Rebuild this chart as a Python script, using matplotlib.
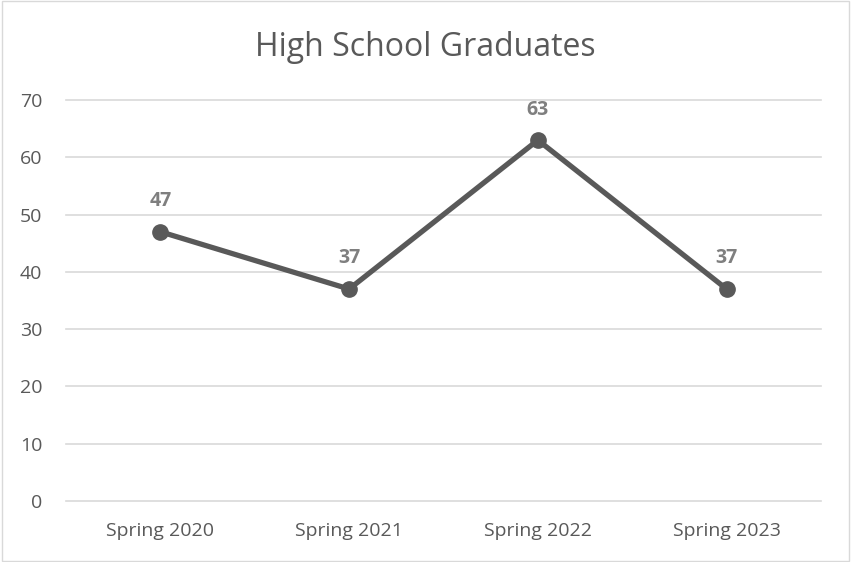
import matplotlib.pyplot as plt
from matplotlib.patches import Rectangle

categories = ["Spring 2020", "Spring 2021", "Spring 2022", "Spring 2023"]
graduates = [47, 37, 63, 37]
y_ticks = [0, 10, 20, 30, 40, 50, 60, 70]

plt.rcParams['font.family'] = ['Open Sans', 'DejaVu Sans']

fig = plt.figure(figsize=(8.51, 5.62), dpi=100)
ax = fig.add_axes([66 / 851, 1 - 501 / 562, 755 / 851, 401 / 562])

x = list(range(len(categories)))
ax.plot(x, graduates, color='#595959', linewidth=3.8, marker='o',
        markersize=11, solid_capstyle='round', zorder=3)

for xi, v in zip(x, graduates):
    ax.annotate(str(v), (xi, v), xytext=(0, 22), textcoords='offset points',
                ha='center', va='center', fontsize=14, fontweight='bold',
                color='#7f7f7f')

ax.set_xlim(-0.5, 3.5)
ax.set_ylim(0, 70)
ax.set_xticks(x)
ax.set_xticklabels(categories)
ax.set_yticks(y_ticks)
ax.tick_params(axis='both', length=0, labelsize=14, labelcolor='#595959')
ax.tick_params(axis='x', pad=15)
ax.tick_params(axis='y', pad=17)
ax.grid(axis='y', color='#d9d9d9', linewidth=1.2)
for gl in ax.get_ygridlines():
    gl.set_clip_on(False)
ax.set_axisbelow(True)
for s in ax.spines.values():
    s.set_visible(False)

fig.text(0.5, 1 - 48 / 562, "High School Graduates", ha='center', va='center',
         fontsize=23, color='#595959')

fig.patches.append(Rectangle((0.002, 0.002), 0.996, 0.996, transform=fig.transFigure,
                             fill=False, edgecolor='#d9d9d9', linewidth=1))

fig.savefig("out.png", dpi=100)
